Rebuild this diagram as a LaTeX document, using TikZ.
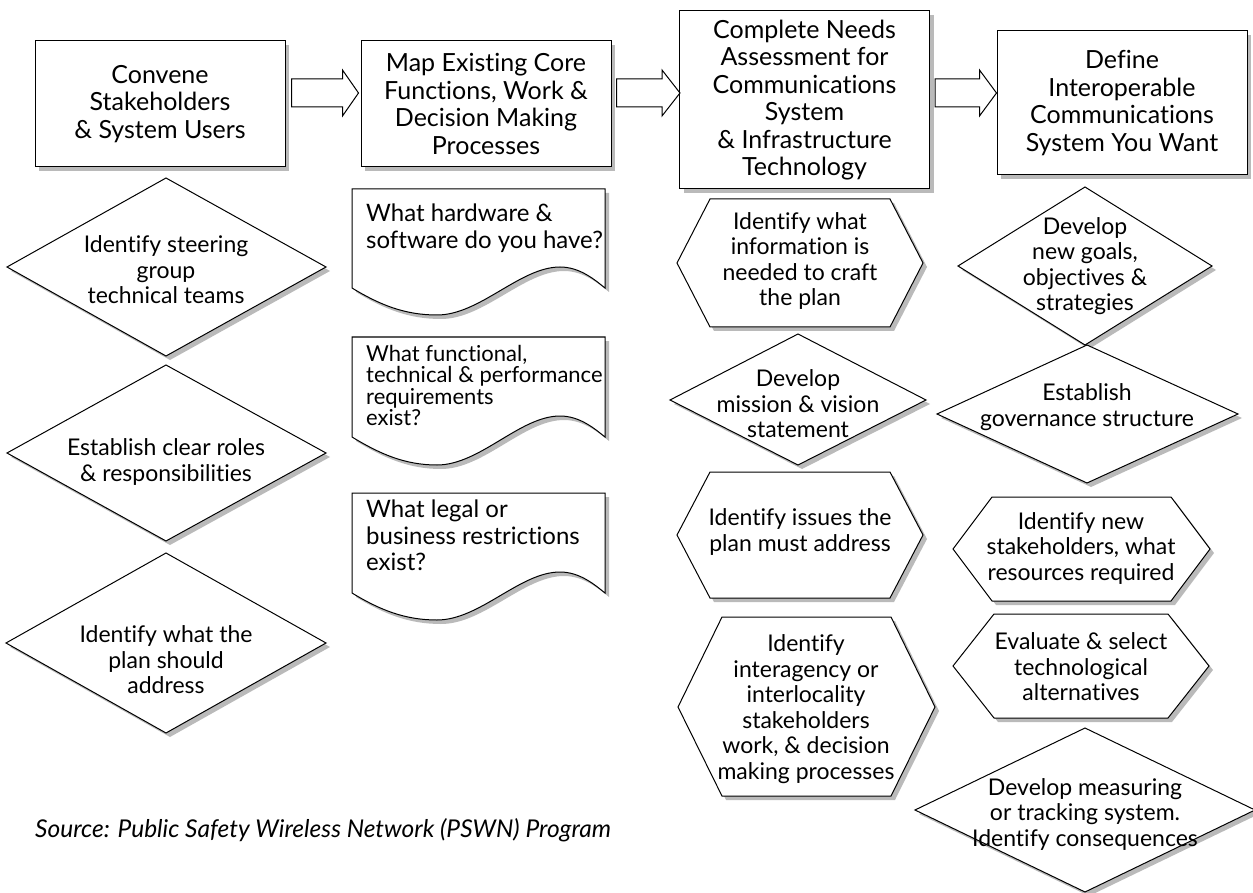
\documentclass[tikz,border=0pt]{standalone}
\usepackage{fontspec}
\setmainfont{Lato}[Ligatures={NoCommon}]
\usepackage{tikz}
\usetikzlibrary{calc, shadows}

\begin{document}
\begin{tikzpicture}[x=1pt, y=-1pt,
  shd/.style={drop shadow={shadow xshift=4pt, shadow yshift=-4pt, fill=black!27, opacity=1}},
  stepbox/.style={draw, fill=white, line width=1pt, minimum width=250pt, inner sep=0pt,
    align=center, font=\fontsize{25}{27.5}\selectfont, shd},
  shp/.style={draw, fill=white, line width=1pt, shd},
  blockarr/.style={draw, fill=white, line width=1pt},
  lbl/.style={align=center, inner sep=0pt, font=\fontsize{23}{25.5}\selectfont},
  doclbl/.style={align=left, anchor=north west, inner sep=0pt, font=\fontsize{24}{26.5}\selectfont}]
\useasboundingbox (0,0) rectangle (1253,893);

% The four steps along the top
\node[stepbox, minimum height=126pt] (conv) at (160,104) {Convene\\Stakeholders\\\& System Users};
\node[stepbox, minimum height=126pt] (mapcore) at (486,104) {Map Existing Core\\Functions, Work \&\\Decision Making\\Processes};
\node[stepbox, minimum height=178pt] (needs) at (804.5,100) {Complete Needs\\Assessment for\\Communications\\System\\\& Infrastructure\\Technology};
\node[stepbox, minimum height=144pt] (define) at (1122,103) {Define\\Interoperable\\Communications\\System You Want};

% Hollow block arrows from step to step
\draw[blockarr] ([xshift=6pt]conv.east |- 0,79) -- ([xshift=-18pt]mapcore.west |- 0,79)
  -- ([xshift=-18pt]mapcore.west |- 0,70) -- ([xshift=-2pt]mapcore.west |- 0,93)
  -- ([xshift=-18pt]mapcore.west |- 0,116) -- ([xshift=-18pt]mapcore.west |- 0,107)
  -- ([xshift=6pt]conv.east |- 0,107) -- cycle;
\draw[blockarr] ([xshift=5pt]mapcore.east |- 0,79) -- ([xshift=-17pt]needs.west |- 0,79)
  -- ([xshift=-17pt]needs.west |- 0,70) -- ([xshift=1pt]needs.west |- 0,93)
  -- ([xshift=-17pt]needs.west |- 0,116) -- ([xshift=-17pt]needs.west |- 0,107)
  -- ([xshift=5pt]mapcore.east |- 0,107) -- cycle;
\draw[blockarr] ([xshift=5pt]needs.east |- 0,79) -- ([xshift=-17pt]define.west |- 0,79)
  -- ([xshift=-17pt]define.west |- 0,70) -- (define.west |- 0,93)
  -- ([xshift=-17pt]define.west |- 0,116) -- ([xshift=-17pt]define.west |- 0,107)
  -- ([xshift=5pt]needs.east |- 0,107) -- cycle;

% First column: diamonds
\draw[shp] (7,267) -- (166,178) -- (326,267) -- (166,356) -- cycle;
\node[lbl] (steer) at (166,270) {Identify steering\\group\\technical teams};
\draw[shp] (7,453) -- (166,365) -- (326,453) -- (166,541) -- cycle;
\node[lbl] (roles) at (166,462) {Establish clear roles\\\& responsibilities};
\draw[shp] (6,643) -- (166,553) -- (326,643) -- (166,733) -- cycle;
\node[lbl] (planaddr) at (166,660) {Identify what the\\plan should\\address};

% Second column: documents with a wavy bottom
\draw[shp] (352,189) -- (605,189) -- (605,288) .. controls (595,280) and (580,267) .. (560,267)
  .. controls (520,267) and (480,315) .. (437,315) .. controls (405,315) and (380,305) .. (352,288) -- cycle;
\node[doclbl] (hwsw) at (366,204) {What hardware \&\\software do you have?};
\draw[shp] (352,337) -- (605,337) -- (605,437) .. controls (595,429) and (580,416) .. (560,416)
  .. controls (520,416) and (480,465) .. (437,465) .. controls (405,465) and (380,454) .. (352,437) -- cycle;
\node[doclbl, font=\fontsize{22}{21.5}\selectfont] (funcreq) at (366,345) {What functional,\\technical \& performance\\requirements\\exist?};
\draw[shp] (352,493) -- (605,493) -- (605,593) .. controls (595,585) and (580,572) .. (560,572)
  .. controls (520,572) and (480,620) .. (437,620) .. controls (405,620) and (380,610) .. (352,593) -- cycle;
\node[doclbl] (legal) at (366,500) {What legal or\\business restrictions\\exist?};

% Third column: hexagons and a diamond
\draw[shp] (677,263) -- (710,199) -- (890,199) -- (923,263) -- (890,327) -- (710,327) -- cycle;
\node[lbl] (infoneed) at (800,261) {Identify what\\information is\\needed to craft\\the plan};
\draw[shp] (670,400) -- (798,334) -- (926,400) -- (798,465) -- cycle;
\node[lbl] (mission) at (798,404) {Develop\\mission \& vision\\statement};
\draw[shp] (677,535) -- (710,472) -- (890,472) -- (923,535) -- (890,598) -- (710,598) -- cycle;
\node[lbl] (issues) at (800,532) {Identify issues the\\plan must address};
\draw[shp] (678,707) -- (722,617) -- (891,617) -- (935,707) -- (891,796) -- (722,796) -- cycle;
\node[lbl] (interag) at (806,709) {Identify\\interagency or\\interlocality\\stakeholders\\work, \& decision\\making processes};

% Fourth column
\draw[shp] (958,266) -- (1085,187) -- (1212,266) -- (1085,345) -- cycle;
\node[lbl] (goals) at (1085,266) {Develop\\new goals,\\objectives \&\\strategies};
\draw[shp] (937,414) -- (1087,345) -- (1238,414) -- (1087,483) -- cycle;
\node[lbl] (govern) at (1087,407) {Establish\\governance structure};
\draw[shp] (953,549) -- (992,497) -- (1171,497) -- (1210,549) -- (1171,601) -- (992,601) -- cycle;
\node[lbl] (newstake) at (1081,548) {Identify new\\stakeholders, what\\resources required};
\draw[shp] (953,666) -- (994,614) -- (1168,614) -- (1209,666) -- (1168,718) -- (994,718) -- cycle;
\node[lbl] (evalsel) at (1081,667) {Evaluate \& select\\technological\\alternatives};
\draw[shp] (915,810) -- (1085,728) -- (1255,810) -- (1085,892) -- cycle;
\node[lbl] (measure) at (1085,814) {Develop measuring\\or tracking system.\\Identify consequences};

\node[anchor=west, inner sep=0pt, font=\itshape\fontsize{24.5}{27}\selectfont] (src) at (35,830) {Source: Public Safety Wireless Network (PSWN) Program};
\end{tikzpicture}
\end{document}
